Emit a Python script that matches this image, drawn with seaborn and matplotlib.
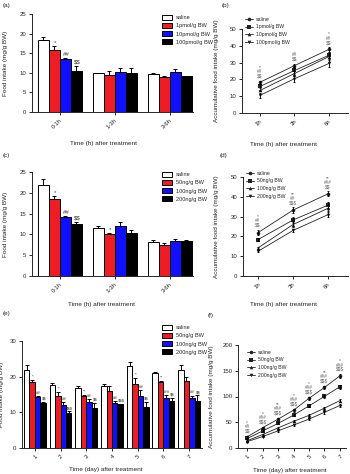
import numpy as np
import pandas as pd
import matplotlib
matplotlib.use("Agg")
import matplotlib.pyplot as plt
import seaborn as sns

# ---------------- data ----------------
hours = ["0-1h", "1-3h", "3-6h"]
cum_hours = ["1h", "3h", "6h"]
days = ["1", "2", "3", "4", "5", "6", "7"]

pmol_groups = ["saline", "1pmol/g BW", "10pmol/g BW", "100pmol/g BW"]
ng_groups = ["saline", "50ng/g BW", "100ng/g BW", "200ng/g BW"]

# (a) food intake per interval, pmol doses
a_mean = [[18.3, 9.9, 9.7], [15.8, 9.4, 8.9], [13.4, 10.1, 10.1], [10.5, 9.9, 9.1]]
a_err = [[0.9, 0.1, 0.2], [1.1, 1.1, 0.3], [0.3, 1.0, 0.8], [1.3, 1.3, 0.2]]
a_marks = [["", "", ""], ["*", "", ""], ["##", "", ""], ["$$", "", ""]]

# (b) accumulative, pmol doses
b_mean = [[18.3, 28.2, 37.9], [15.8, 25.3, 34.4], [13.4, 23.5, 33.6], [10.5, 20.4, 29.5]]
b_err = [[1.0, 1.1, 1.3], [1.2, 1.6, 1.7], [0.5, 1.3, 1.5], [1.4, 1.8, 1.9]]
b_marks = ["*\n##\n$$", "##\n$$", "*\n##\n$$"]

# (c) food intake per interval, ng doses
c_mean = [[21.9, 11.5, 8.1], [18.4, 10.0, 7.4], [14.2, 12.1, 8.5], [12.5, 10.4, 8.3]]
c_err = [[1.4, 0.6, 0.6], [0.8, 0.4, 0.5], [0.3, 0.9, 0.5], [0.5, 0.7, 0.4]]
c_marks = [["", "", ""], ["*", "*", ""], ["##", "", ""], ["$$", "", ""]]

# (d) accumulative, ng doses
d_mean = [[21.9, 33.3, 41.5], [18.4, 28.3, 35.8], [14.2, 26.0, 34.2], [12.5, 23.0, 31.0]]
d_err = [[1.4, 1.3, 1.2], [0.8, 1.3, 1.4], [0.4, 1.2, 1.5], [0.6, 0.9, 1.4]]
d_marks = ["*\n##\n$$", "**\n##\n$$$", "**\n###\n$$"]

# (e) daily food intake, ng doses
e_mean = [[21.8, 17.6, 16.7, 17.3, 23.0, 21.1, 21.9],
          [18.5, 14.6, 14.6, 16.1, 17.9, 18.4, 18.8],
          [14.2, 12.0, 12.9, 12.6, 14.6, 14.1, 14.1],
          [12.5, 9.7, 11.2, 12.2, 11.4, 13.3, 13.2]]
e_err = [[1.5, 0.6, 0.6, 0.6, 1.2, 0.2, 1.4],
         [0.7, 1.2, 0.4, 1.3, 1.7, 0.3, 1.2],
         [0.4, 1.0, 0.9, 0.5, 1.6, 0.8, 0.6],
         [0.5, 0.6, 1.4, 0.2, 1.5, 0.8, 1.6]]
e_marks = [["", "", "", "", "", "", ""],
           ["*", "*", "**", "", "*", "**", ""],
           ["##", "##", "##", "##", "##", "###", "##"],
           ["$$", "$$$", "$$", "$$$", "$$", "$$", "$$"]]

# (f) accumulative daily intake, ng doses
f_mean = [[21.8, 39.4, 56.1, 73.4, 96.4, 117.5, 140.0],
          [18.5, 33.1, 47.7, 63.8, 81.7, 100.1, 118.9],
          [14.2, 26.2, 39.1, 51.7, 63.3, 77.4, 92.0],
          [12.5, 22.2, 33.4, 44.6, 56.0, 69.3, 82.5]]
f_err = [[1.6, 2.0, 2.4, 2.6, 3.0, 3.2, 3.6],
         [0.8, 1.8, 2.0, 2.4, 3.0, 3.2, 3.4],
         [0.5, 1.4, 1.8, 2.0, 2.6, 2.8, 3.0],
         [0.6, 1.2, 2.0, 2.0, 2.4, 2.8, 3.2]]
f_marks = ["*\n##\n$$", "*\n###\n$$$", "**\n###\n$$$", "*\n###\n$$$",
           "*\n###\n$$$", "**\n###\n$$$", "*\n###\n$$$"]

bar_colors = ["white", "#ee1c24", "#1010ff", "black"]
markers = ["o", "s", "^", "v"]

# ---------------- style ----------------
sns.set_style("ticks")
plt.rcParams["font.family"] = ["Liberation Sans", "DejaVu Sans"]
plt.rcParams["text.parse_math"] = False
plt.rcParams["axes.linewidth"] = 0.7
plt.rcParams["xtick.major.width"] = 0.7
plt.rcParams["ytick.major.width"] = 0.7
plt.rcParams["xtick.major.size"] = 2.5
plt.rcParams["ytick.major.size"] = 2.5

W, H = 350, 474
fig = plt.figure(figsize=(W / 100, H / 100), dpi=100)
FS = 4.3
MARK_C = "#3a3a3a"


def place(x0, x1, y0, y1):
    return fig.add_axes([x0 / W, 1 - y1 / H, (x1 - x0) / W, (y1 - y0) / H])


def finish(ax, cats, xlab, ylab, yticks, xlim, xlab_px, ylab_x):
    ax.set_xlim(*xlim)
    ax.set_ylim(yticks[0], yticks[-1])
    ax.set_yticks(yticks)
    ax.set_xticks(range(len(cats)))
    ax.set_xticklabels(cats, rotation=45, ha="right", rotation_mode="anchor")
    ax.tick_params(labelsize=FS, pad=1.5)
    ax.set_xlabel(xlab, fontsize=FS + 0.3)
    ax.set_ylabel(ylab, fontsize=FS + 0.3)
    pos = ax.get_position()
    fx, fy = xlab_px[0] / W, 1 - xlab_px[1] / H
    ax.xaxis.set_label_coords((fx - pos.x0) / pos.width, (fy - pos.y0) / pos.height)
    ax.yaxis.set_label_coords((ylab_x / W - pos.x0) / pos.width, 0.5)
    sns.despine(ax=ax)


def bar_panel(ax, cats, groups, means, errs, marks, width, legend_px, mark_fs):
    rows = []
    for g, m in zip(groups, means):
        for c, v in zip(cats, m):
            rows.append({"time": c, "group": g, "intake": v})
    df = pd.DataFrame(rows)
    sns.barplot(data=df, x="time", y="intake", hue="group", order=cats,
                hue_order=groups, palette=bar_colors, saturation=1,
                edgecolor="black", linewidth=0.7, errorbar=None, width=width, ax=ax)
    for cont, e_row, m_row in zip(ax.containers, errs, marks):
        for bar, e, m in zip(cont, e_row, m_row):
            x = bar.get_x() + bar.get_width() / 2
            top = bar.get_height()
            ax.errorbar(x, top, yerr=[[0], [e]], fmt="none", ecolor="black",
                        elinewidth=0.7, capsize=1.6, capthick=0.7, zorder=3)
            if m:
                ax.annotate(m, (x, top + e), xytext=(0.6, 0.8),
                            textcoords="offset points", ha="center", va="bottom",
                            fontsize=mark_fs, color=MARK_C)
    ax.legend(loc="upper left", bbox_to_anchor=(legend_px[0] / W, 1 - legend_px[1] / H),
              bbox_transform=fig.transFigure, frameon=False, fontsize=FS - 0.2,
              handlelength=1.8, handleheight=0.9, labelspacing=0.5,
              borderpad=0, handletextpad=0.6)


def line_panel(ax, cats, groups, means, errs, marks, legend_px):
    rows = []
    for g, m in zip(groups, means):
        for i, v in enumerate(m):
            rows.append({"pos": i, "group": g, "intake": v})
    df = pd.DataFrame(rows)
    sns.lineplot(data=df, x="pos", y="intake", hue="group", style="group",
                 hue_order=groups, style_order=groups, markers=markers, dashes=False,
                 palette=["#222222"] * len(groups), linewidth=0.6, markersize=2.6,
                 markeredgewidth=0, ax=ax)
    for m, e in zip(means, errs):
        ax.errorbar(range(len(cats)), m, yerr=e, fmt="none", ecolor="black",
                    elinewidth=0.6, capsize=1.0, capthick=0.6)
    tops = np.max(np.array(means) + np.array(errs), axis=0)
    for i, (t, s) in enumerate(zip(tops, marks)):
        ax.annotate(s, (i, t), xytext=(0, 1.5), textcoords="offset points",
                    ha="center", va="bottom", fontsize=FS - 0.9, color="#666666",
                    linespacing=0.85)
    ax.legend(loc="upper left", bbox_to_anchor=(legend_px[0] / W, 1 - legend_px[1] / H),
              bbox_transform=fig.transFigure, frameon=False, fontsize=FS - 0.6,
              handlelength=1.6, labelspacing=0.55, borderpad=0, handletextpad=0.6)


xl_h = "Time (h) after treatment"
xl_d = "Time (day) after treatment"
yl_f = "Food intake (mg/g BW)"
yl_a = "Accumulative food intake (mg/g BW)"

# (a)
ax_a = place(32, 193, 14, 112)
bar_panel(ax_a, hours, pmol_groups, a_mean, a_err, a_marks, 0.8, (159, 12), FS)
finish(ax_a, hours, xl_h, yl_f, [0, 5, 10, 15, 20, 25], (-0.5, 2.42), (103, 141), 8)

# (b)
ax_b = place(242, 348, 29, 113)
line_panel(ax_b, cum_hours, pmol_groups, b_mean, b_err, b_marks, (242, 14))
finish(ax_b, cum_hours, xl_h, yl_a, [0, 10, 20, 30, 40, 50], (-0.52, 2.55), (284, 142), 219)

# (c)
ax_c = place(32, 193, 172, 276)
bar_panel(ax_c, hours, ng_groups, c_mean, c_err, c_marks, 0.8, (159, 169), FS)
finish(ax_c, hours, xl_h, yl_f, [0, 5, 10, 15, 20, 25], (-0.5, 2.42), (102, 302), 8)

# (d)
ax_d = place(243, 348, 177, 276)
line_panel(ax_d, cum_hours, ng_groups, d_mean, d_err, d_marks, (243, 168))
finish(ax_d, cum_hours, xl_h, yl_a, [0, 10, 20, 30, 40, 50], (-0.43, 2.57), (283, 302), 219)

# (e)
ax_e = place(22, 202, 341, 448)
bar_panel(ax_e, days, ng_groups, e_mean, e_err, e_marks, 0.85, (159, 322), FS - 1.2)
finish(ax_e, days, xl_d, yl_f, [0, 10, 20, 30], (-0.5, 6.5), (106, 467), 4)

# (f)
ax_f = place(238, 346, 345, 448)
line_panel(ax_f, days, ng_groups, f_mean, f_err, f_marks, (244, 347))
finish(ax_f, days, xl_d, yl_a, [0, 50, 100, 150, 200], (-0.6, 6.4), (290, 468), 214)

# panel letters
for lab, (px, py) in zip(["(a)", "(b)", "(c)", "(d)", "(e)", "(f)"],
                         [(3, 6), (222, 6), (3, 156), (220, 155), (3, 314), (208, 315)]):
    fig.text(px / W, 1 - py / H, lab, fontsize=FS + 0.3, va="center", ha="left")

fig.savefig("out.png", dpi=100)
